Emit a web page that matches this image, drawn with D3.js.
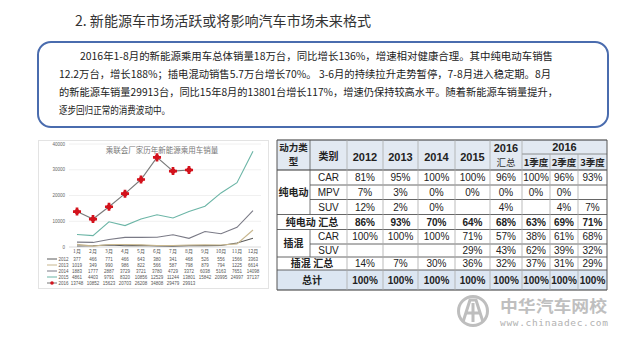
<!DOCTYPE html>
<html><head><meta charset="utf-8">
<script src="https://cdn.jsdelivr.net/npm/d3@7/dist/d3.min.js"></script>
<style>body{margin:0;background:#fff}svg{display:block}</style>
</head><body><svg id="c" width="631" height="340"></svg>
<script>
// ---------- data ----------
const pageTitle = "2. 新能源车市场活跃或将影响汽车市场未来格式";
const bodyLines = [
  "2016年1-8月的新能源乘用车总体销量18万台，同比增长136%，增速相对健康合理。其中纯电动车销售",
  "12.2万台，增长188%；插电混动销售5.7万台增长70%。 3-6月的持续拉升走势暂停，7-8月进入稳定期。8月",
  "的新能源车销量29913台，同比15年8月的13801台增长117%，增速仍保持较高水平。随着新能源车销量提升，",
  "逐步回归正常的消费波动中。"
];
const chartTitle = "乘联会厂家历年新能源乘用车销量";
const months = ["1月","2月","3月","4月","5月","6月","7月","8月","9月","10月","11月","12月"];
const yTicks = [0, 10000, 20000, 30000, 40000];
const years = ["2012","2013","2014","2015","2016"];
const s2012 = [377, 466, 771, 466, 643, 380, 341, 468, 526, 556, 1566, 3363];
const s2013 = [1019, 349, 990, 986, 822, 566, 587, 798, 879, 794, 1225, 6614];
const s2014 = [1883, 1777, 2887, 3729, 3721, 3780, 4729, 3372, 6038, 5163, 7651, 14098];
const s2015 = [4861, 4403, 9791, 8320, 10856, 12529, 11244, 13801, 15842, 20995, 24997, 37137];
const s2016 = [13748, 10852, 15623, 20703, 26208, 34808, 29479, 29913];

const tableCols = ["2012","2013","2014","2015","2016","1季度","2季度","3季度"];
const bevCAR = ["81%","95%","100%","100%","96%","100%","96%","93%"];
const bevMPV = ["7%","3%","0%","0%","0%","0%","0%",""];
const bevSUV = ["12%","2%","0%","","4%","","4%","7%"];
const bevSum = ["86%","93%","70%","64%","68%","63%","69%","71%"];
const phevCAR = ["100%","100%","100%","71%","57%","38%","61%","68%"];
const phevSUV = ["","","","29%","43%","62%","39%","32%"];
const phevSum = ["14%","7%","30%","36%","32%","37%","31%","29%"];
const totalRow = ["100%","100%","100%","100%","100%","100%","100%","100%"];

// ---------- setup ----------
const svg = d3.select("#c");
const CJK = "'Noto Sans CJK SC','Noto Sans',sans-serif";
const LAT = "'Liberation Sans',Arial,sans-serif";

svg.append("rect").attr("width",631).attr("height",340).attr("fill","#fff");

// title
svg.append("text").attr("x",75).attr("y",26).attr("font-family",CJK).attr("font-size",14)
  .attr("fill","#333").attr("textLength",296).attr("lengthAdjust","spacingAndGlyphs").text(pageTitle);

// text box
svg.append("rect").attr("x",38).attr("y",42).attr("width",570).attr("height",85).attr("rx",13)
  .attr("fill","#fff").attr("stroke","#4a6cae").attr("stroke-width",2);
const lineX = [80,59,59,59], lineEnd = [553,551,558,170], lineY = [60,78,96,114];
bodyLines.forEach((t,i)=>{
  svg.append("text").attr("x",lineX[i]).attr("y",lineY[i]).attr("font-family",CJK)
    .attr("font-size",10.5).attr("fill","#222").text(t)
    .attr("textLength",lineEnd[i]-lineX[i]).attr("lengthAdjust","spacingAndGlyphs");
});

// ---------- chart ----------
const g = svg.append("g");
g.append("rect").attr("x",38.5).attr("y",140.5).attr("width",230).attr("height",148)
  .attr("fill","#fff").attr("stroke","#e3e3e3");

const x = d3.scaleBand().domain(months).range([69,261]);
const cx = m => x(m) + x.bandwidth()/2;
const y = d3.scaleLinear().domain([0,40000]).range([247,144]);

g.selectAll("line.grid").data(yTicks).join("line")
  .attr("x1",69).attr("x2",261).attr("y1",d=>y(d)).attr("y2",d=>y(d))
  .attr("stroke",d=>d===0?"#d0d0d0":"#ececec").attr("stroke-width",0.8);
g.selectAll("text.yt").data(yTicks).join("text")
  .attr("x",65).attr("y",d=>y(d)+1.6).attr("text-anchor","end").attr("font-family",LAT)
  .attr("font-size",4.5).attr("fill","#666").text(d=>d);
g.selectAll("text.xt").data(months).join("text")
  .attr("x",d=>cx(d)).attr("y",253).attr("text-anchor","middle").attr("font-family",CJK)
  .attr("font-size",5).attr("fill","#555").text(d=>d);
g.append("text").attr("x",162).attr("y",153).attr("text-anchor","middle").attr("font-family",CJK)
  .attr("font-size",7.5).attr("fill","#777").text(chartTitle);

const seriesList = [
  {name:years[0], vals:s2012, color:"#5b5b5b"},
  {name:years[1], vals:s2013, color:"#c8b78e"},
  {name:years[2], vals:s2014, color:"#7a7a86"},
  {name:years[3], vals:s2015, color:"#6bb5a6"},
  {name:years[4], vals:s2016, color:"#7a7a7a"}
];
const line = d3.line().x((d,i)=>cx(months[i])).y(d=>y(d));
seriesList.forEach(s=>{
  g.append("path").attr("d",line(s.vals)).attr("fill","none").attr("stroke",s.color).attr("stroke-width",1.1);
});
const mk = d3.symbol(d3.symbolCross, 36);
g.selectAll("g.mk").data(s2016).join("g")
  .attr("transform",(d,i)=>`translate(${cx(months[i])},${y(d)})`)
  .each(function(){
    d3.select(this).append("circle").attr("r",2.6).attr("fill","#d3121c");
    d3.select(this).append("path").attr("d",mk()).attr("fill","#d3121c");
  });

// data table under chart
const rowY = d3.scaleBand().domain(years).range([256,286]);
seriesList.forEach(s=>{
  const yy = rowY(s.name)+rowY.bandwidth()/2;
  g.append("line").attr("x1",47).attr("x2",57).attr("y1",yy).attr("y2",yy).attr("stroke",s.name==="2016"?"#777":s.color).attr("stroke-width",1);
  if (s.name==="2016") g.append("circle").attr("cx",52).attr("cy",yy).attr("r",1.8).attr("fill","#d3121c");
  g.append("text").attr("x",58.5).attr("y",yy+1.6).attr("font-family",LAT).attr("font-size",4.5).attr("fill","#555").text(s.name);
  g.selectAll(null).data(s.vals).join("text")
    .attr("x",(d,i)=>cx(months[i])).attr("y",yy+1.6).attr("text-anchor","middle")
    .attr("font-family",LAT).attr("font-size",4.5).attr("fill","#555").text(d=>d);
});

// ---------- right table ----------
const t = svg.append("g");
const colW = [33,37,36,35,37,35,32,28,28,29];
const cum = [0]; colW.forEach(w=>cum.push(cum[cum.length-1]+w));
const tx = d3.scaleLinear().domain([0,d3.sum(colW)]).range([277,607]);
const cb = cum.map(c=>tx(c));           // column boundaries
const ccen = i => (cb[i]+cb[i+1])/2;
const rowH = [15,14.5,15,15,14.5,13,13,20];
const rcum = [0]; rowH.forEach(h=>rcum.push(rcum[rcum.length-1]+h));
const ty = d3.scaleLinear().domain([0,d3.sum(rowH)]).range([170,290]);
const rb = rcum.map(r=>ty(r));
const rcen = i => (rb[i]+rb[i+1])/2;

// backgrounds
t.append("rect").attr("x",cb[0]).attr("y",140).attr("width",cb[10]-cb[0]).attr("height",30).attr("fill","#e2e9f2");
t.append("rect").attr("x",cb[0]).attr("y",rb[7]).attr("width",cb[10]-cb[0]).attr("height",rb[8]-rb[7]).attr("fill","#dce6f2");

const body = [
  {grp:"纯电动", cat:"CAR", vals:bevCAR},
  {grp:null, cat:"MPV", vals:bevMPV},
  {grp:null, cat:"SUV", vals:bevSUV},
  {sum:"纯电动 汇总", vals:bevSum, bold:true},
  {grp:"插混", cat:"CAR", vals:phevCAR},
  {grp:null, cat:"SUV", vals:phevSUV},
  {sum:"插混 汇总", vals:phevSum, bold:false},
  {sum:"总计", vals:totalRow, bold:true}
];

// lines
const H = (y1,x1,x2,c,w)=>t.append("line").attr("x1",x1).attr("x2",x2).attr("y1",y1).attr("y2",y1).attr("stroke",c||"#555").attr("stroke-width",w||0.9);
const V = (x1,y1,y2,c,w)=>t.append("line").attr("x1",x1).attr("x2",x1).attr("y1",y1).attr("y2",y2).attr("stroke",c||"#999").attr("stroke-width",w||0.8);
H(140,cb[0],cb[10],"#333",1.2);
H(154,cb[7],cb[10],"#777",0.8);
H(170,cb[0],cb[10],"#333",1.2);
H(rb[1],cb[1],cb[10]); H(rb[2],cb[1],cb[10]);
H(rb[3],cb[0],cb[10]); H(rb[4],cb[0],cb[10]);
H(rb[5],cb[1],cb[10]);
H(rb[6],cb[0],cb[10]); H(rb[7],cb[0],cb[10]);
H(rb[8],cb[0],cb[10],"#333",1.2);
V(cb[0],140,290,"#555",1); V(cb[10],140,290,"#555",1);
V(cb[1],140,rb[3],"#555"); V(cb[1],rb[4],rb[6],"#555");
for (let i=2;i<=9;i++){
  const top = (i>=8)?154:140;
  V(cb[i],top,290,"#aaa");
}

// header text
const txt = (x0,y0,s,o={})=>t.append("text").attr("x",x0).attr("y",y0).attr("dy","0.35em")
  .attr("text-anchor","middle").attr("font-family",o.f||CJK).attr("font-size",o.s||10)
  .attr("font-weight",o.w||"normal").attr("fill",o.c||"#222").text(s);
txt(ccen(0),148,"动力类",{w:"bold",s:9.5});
txt(ccen(0),162,"型",{w:"bold",s:9.5});
txt(ccen(1),156,"类别",{w:"bold",s:10});
for (let i=0;i<4;i++) txt(ccen(i+2),157,tableCols[i],{f:LAT,w:"bold",s:11});
txt(ccen(6),148,tableCols[4],{f:LAT,w:"bold",s:11});
txt(ccen(6),163,"汇总",{s:9.5,c:"#333"});
txt((cb[7]+cb[10])/2,147,tableCols[4],{f:LAT,w:"bold",s:11});
for (let i=5;i<8;i++) txt(ccen(i+2),163,tableCols[i],{w:"bold",s:9.5});

// body text
txt(ccen(0),(rb[0]+rb[3])/2,"纯电动",{s:10,w:"bold"});
txt(ccen(0),(rb[4]+rb[6])/2,"插混",{s:10,w:"bold"});
body.forEach((r,ri)=>{
  const yy = rcen(ri);
  if (r.cat) txt(ccen(1),yy,r.cat,{f:LAT,s:10});
  if (r.sum) txt((cb[0]+cb[2])/2,yy,r.sum,{s:10,w:"bold"});
  r.vals.forEach((v,ci)=>{
    if (v) txt(ccen(ci+2),yy,v,{f:LAT,s:10,w:r.bold?"bold":"normal"});
  });
});

// ---------- watermark ----------
const wm = svg.append("g").attr("opacity",0.85);
wm.append("circle").attr("cx",473).attr("cy",311).attr("r",14.5).attr("fill","none").attr("stroke","#b3b3b3").attr("stroke-width",3);
wm.append("path").attr("d","M463,322 L470,300 L476,300 L483,322 M466,313 L480,313 M473,303 L473,322")
  .attr("fill","none").attr("stroke","#b3b3b3").attr("stroke-width",3);
wm.append("text").attr("x",500).attr("y",312).attr("font-family",CJK).attr("font-size",16).attr("font-weight","bold")
  .attr("fill","#b5b5b5").attr("textLength",107).attr("lengthAdjust","spacingAndGlyphs").text("中华汽车网校");
wm.append("text").attr("x",500).attr("y",325.5).attr("font-family","'DejaVu Sans Mono',monospace").attr("font-size",9.5)
  .attr("fill","#a5a5a5").attr("textLength",108).text("www.chinaadec.com");
</script></body></html>
